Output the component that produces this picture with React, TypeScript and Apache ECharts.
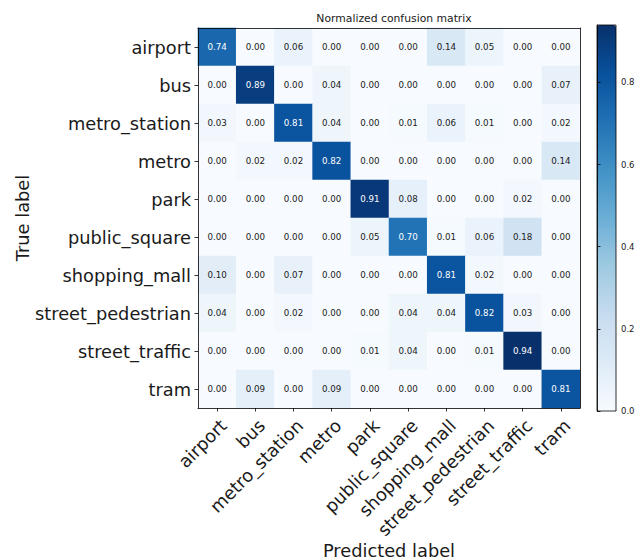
import React, { useEffect, useRef } from "react";
import * as echarts from "echarts";

const labels = [
  "airport",
  "bus",
  "metro_station",
  "metro",
  "park",
  "public_square",
  "shopping_mall",
  "street_pedestrian",
  "street_traffic",
  "tram",
];

const rowAirport = [0.74, 0.0, 0.06, 0.0, 0.0, 0.0, 0.14, 0.05, 0.0, 0.0];
const rowBus = [0.0, 0.89, 0.0, 0.04, 0.0, 0.0, 0.0, 0.0, 0.0, 0.07];
const rowMetroStation = [0.03, 0.0, 0.81, 0.04, 0.0, 0.01, 0.06, 0.01, 0.0, 0.02];
const rowMetro = [0.0, 0.02, 0.02, 0.82, 0.0, 0.0, 0.0, 0.0, 0.0, 0.14];
const rowPark = [0.0, 0.0, 0.0, 0.0, 0.91, 0.08, 0.0, 0.0, 0.02, 0.0];
const rowPublicSquare = [0.0, 0.0, 0.0, 0.0, 0.05, 0.7, 0.01, 0.06, 0.18, 0.0];
const rowShoppingMall = [0.1, 0.0, 0.07, 0.0, 0.0, 0.0, 0.81, 0.02, 0.0, 0.0];
const rowStreetPedestrian = [0.04, 0.0, 0.02, 0.0, 0.0, 0.04, 0.04, 0.82, 0.03, 0.0];
const rowStreetTraffic = [0.0, 0.0, 0.0, 0.0, 0.01, 0.04, 0.0, 0.01, 0.94, 0.0];
const rowTram = [0.0, 0.09, 0.0, 0.09, 0.0, 0.0, 0.0, 0.0, 0.0, 0.81];

const rows = [
  rowAirport,
  rowBus,
  rowMetroStation,
  rowMetro,
  rowPark,
  rowPublicSquare,
  rowShoppingMall,
  rowStreetPedestrian,
  rowStreetTraffic,
  rowTram,
];

const colorbarTicks = [0, 0.2, 0.4, 0.6, 0.8];

const FONT = "DejaVu Sans";
const BLUES = [
  "#f7fbff",
  "#deebf7",
  "#c6dbef",
  "#9ecae1",
  "#6baed6",
  "#4292c6",
  "#2171b5",
  "#08519c",
  "#08306b",
];

export default function App() {
  const ref = useRef<HTMLDivElement>(null);

  useEffect(() => {
    if (!ref.current) return;
    const chart = echarts.init(ref.current, undefined, { renderer: "svg" });
    let vmax = 0;
    rows.forEach((r) => r.forEach((v) => (vmax = Math.max(vmax, v))));
    const thresh = vmax / 2;
    const data: any[] = [];
    rows.forEach((r, yi) =>
      r.forEach((v, xi) => {
        data.push({
          value: [xi, yi, v],
          label: { color: v > thresh ? "#ffffff" : "#1a1a1a" },
        });
      })
    );

    const gridL = 198;
    const gridT = 28;
    const gridR = 636 - 580;
    const gridB = 560 - 408;

    chart.setOption({
      animation: false,
      backgroundColor: "#ffffff",
      textStyle: { fontFamily: FONT },
      title: {
        text: "Normalized confusion matrix",
        left: 389,
        top: 8,
        textAlign: "center",
        textStyle: { fontFamily: FONT, fontSize: 10.8, fontWeight: "normal", color: "#1a1a1a" },
      },
      grid: [
        { left: gridL, top: gridT, right: gridR, bottom: gridB, containLabel: false, outerBoundsMode: "none" },
        { left: 597, top: 25, width: 19, height: 386, containLabel: false, outerBoundsMode: "none" },
      ],
      xAxis: [
        {
          type: "category",
          gridIndex: 0,
          data: labels,
          position: "bottom",
          z: 10,
          name: "Predicted label",
          nameLocation: "middle",
          nameMoveOverlap: false,
          nameGap: 133,
          nameTextStyle: { fontFamily: FONT, fontSize: 17.8, lineHeight: 18, color: "#1a1a1a" },
          axisLine: { show: true, lineStyle: { color: "#000", width: 0.8 } },
          axisTick: { show: true, alignWithLabel: true, length: 3.5, lineStyle: { color: "#000", width: 0.8 } },
          axisLabel: {
            rotate: 45,
            align: "right",
            verticalAlign: "top",
            margin: 8,
            interval: 0,
            fontFamily: FONT,
            fontSize: 17.8,
            color: "#1a1a1a",
          },
          splitLine: { show: false },
        },
        {
          type: "category",
          gridIndex: 0,
          data: labels,
          position: "top",
          z: 10,
          axisLine: { show: true, lineStyle: { color: "#000", width: 0.8 } },
          axisTick: { show: false },
          axisLabel: { show: false },
        },
        {
          type: "value",
          gridIndex: 1,
          show: false,
        },
      ],
      yAxis: [
        {
          type: "category",
          gridIndex: 0,
          data: labels,
          inverse: true,
          position: "left",
          z: 10,
          name: "True label",
          nameLocation: "middle",
          nameMoveOverlap: false,
          nameGap: 167,
          nameTextStyle: { fontFamily: FONT, fontSize: 17.8, color: "#1a1a1a" },
          axisLine: { show: true, lineStyle: { color: "#000", width: 0.8 } },
          axisTick: { show: true, alignWithLabel: true, length: 3.5, lineStyle: { color: "#000", width: 0.8 } },
          axisLabel: { margin: 7, interval: 0, fontFamily: FONT, fontSize: 17.8, color: "#1a1a1a" },
          splitLine: { show: false },
        },
        {
          type: "category",
          gridIndex: 0,
          data: labels,
          inverse: true,
          position: "right",
          z: 10,
          axisLine: { show: true, lineStyle: { color: "#000", width: 0.8 } },
          axisTick: { show: false },
          axisLabel: { show: false },
        },
        {
          type: "value",
          gridIndex: 1,
          position: "right",
          min: 0,
          max: vmax,
          interval: 0.2,
          z: 10,
          axisLine: { show: true, lineStyle: { color: "#000", width: 0.8 } },
          axisTick: {
            show: true,
            length: 3.5,
            lineStyle: { color: "#000", width: 0.8 },
            customValues: colorbarTicks,
          },
          axisLabel: {
            margin: 5,
            fontFamily: FONT,
            fontSize: 8.5,
            color: "#1a1a1a",
            customValues: colorbarTicks,
            formatter: (v: number) => v.toFixed(1),
          },
          splitLine: { show: false },
        },
      ],
      visualMap: {
        type: "continuous",
        min: 0,
        max: vmax,
        seriesIndex: 0,
        dimension: 2,
        orient: "vertical",
        left: 597,
        top: 25,
        itemWidth: 19,
        itemHeight: 386,
        padding: 0,
        calculable: false,
        hoverLink: false,
        text: null,
        inRange: { color: BLUES },
      },
      graphic: [
        {
          type: "rect",
          z: 100,
          shape: { x: 597, y: 25, width: 19, height: 386 },
          style: { fill: "none", stroke: "#000", lineWidth: 0.8 },
          silent: true,
        },
      ],
      series: [
        {
          type: "heatmap",
          xAxisIndex: 0,
          yAxisIndex: 0,
          data,
          label: {
            show: true,
            fontFamily: FONT,
            fontSize: 8.7,
            formatter: (p: any) => p.value[2].toFixed(2),
          },
          itemStyle: { borderWidth: 0 },
          emphasis: { disabled: true },
        },
      ],
    });
    return () => chart.dispose();
  }, []);

  return (
    <div
      ref={ref}
      style={{ position: "absolute", left: 0, top: 0, width: 636, height: 560 }}
    />
  );
}
